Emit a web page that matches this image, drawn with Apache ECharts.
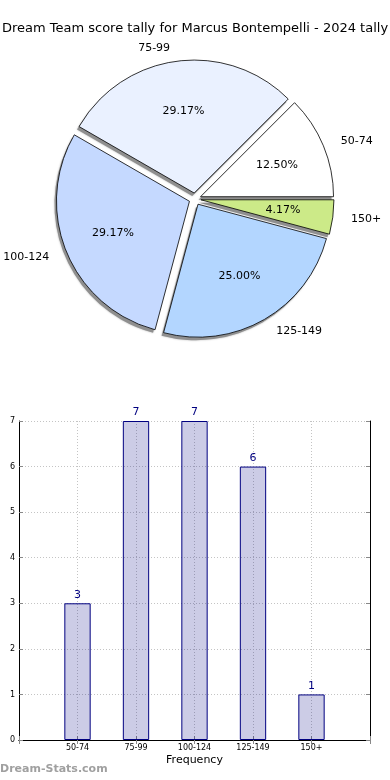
<!DOCTYPE html>
<html><head><meta charset="utf-8">
<script src="https://cdn.jsdelivr.net/npm/echarts@6/dist/echarts.min.js"></script>
<style>html,body{margin:0;padding:0;background:#fff}#c{width:390px;height:780px}</style>
</head><body><div id="c"></div>
<script>
const titleText = 'Dream Team score tally for Marcus Bontempelli - 2024 tally';
const categories = ['50-74', '75-99', '100-124', '125-149', '150+'];
const values = [3, 7, 7, 6, 1];
const sliceColors = ['#ffffff', '#eaf1ff', '#c5d9ff', '#b3d6ff', '#ccea88'];
const xAxisName = 'Frequency';
const yAxisName = 'Stat Intervals';
const watermark = 'Dream-Stats.com';

const total = values.reduce((a, b) => a + b, 0);
const R = 133;
const CX = 195, CY = 199;
const FONT = 'DejaVu Sans';
const pieData = categories.map((c, i) => ({ name: c, value: values[i], selected: true, itemStyle: { color: sliceColors[i] } }));
const plainData = categories.map((c, i) => ({ name: c, value: values[i], selected: true }));
const axisCats = [''].concat(categories, ['']);
const barData = ['-'].concat(values, ['-']);

const chart = echarts.init(document.getElementById('c'), null, { renderer: 'canvas' });
const gridColor = '#c4c4c4';
const pieCommon = {
  type: 'pie', radius: [0, R], startAngle: 0, clockwise: false,
  selectedMode: 'multiple', selectedOffset: 6, avoidLabelOverlap: false,
  emphasis: { disabled: true }
};
const option = {
  animation: false,
  backgroundColor: '#fff',
  textStyle: { fontFamily: FONT },
  title: {
    text: titleText, left: 'center', top: 22, padding: 0,
    textStyle: { fontSize: 13, fontWeight: 'normal', color: '#000', fontFamily: FONT }
  },
  graphic: [{
    type: 'text', left: 0, top: 764,
    style: { text: watermark, fill: '#a0a0a0', font: 'bold 11px "DejaVu Sans"' }
  }],
  grid: { left: 19, right: 20, top: 421, bottom: 40, containLabel: false, outerBoundsMode: 'none' },
  xAxis: [{
    type: 'category', data: axisCats, boundaryGap: false, position: 'bottom',
    axisLine: { show: true, lineStyle: { color: '#000', width: 1 } },
    axisTick: { show: true, inside: true, length: 4, interval: 0, lineStyle: { color: '#888' } },
    axisLabel: { interval: 0, fontSize: 8, margin: 4, color: '#000', fontFamily: FONT },
    splitLine: { show: true, interval: 0, lineStyle: { color: gridColor, type: [1, 2], width: 1 } },
    name: xAxisName, nameLocation: 'middle', nameGap: 15,
    nameTextStyle: { fontSize: 11, color: '#000', fontFamily: FONT }
  }, {
    type: 'category', data: axisCats, boundaryGap: false, position: 'top',
    axisLine: { show: true, lineStyle: { color: '#000', width: 1 } },
    axisTick: { show: true, inside: true, length: 4, interval: 0, lineStyle: { color: '#888' } },
    axisLabel: { show: false }, splitLine: { show: false }
  }],
  yAxis: [{
    type: 'value', min: 0, max: 7, interval: 1, position: 'left',
    axisLine: { show: true, lineStyle: { color: '#000', width: 1 } },
    axisTick: { show: true, inside: true, length: 4, lineStyle: { color: '#888' } },
    axisLabel: { fontSize: 8, margin: 4, color: '#000', fontFamily: FONT },
    splitLine: { show: true, lineStyle: { color: gridColor, type: [1, 2], width: 1 } },
    name: yAxisName, nameLocation: 'middle', nameGap: 10, nameRotate: 90,
    nameTextStyle: { fontSize: 11, color: '#000', fontFamily: FONT }
  }, {
    type: 'value', min: 0, max: 7, interval: 1, position: 'right',
    axisLine: { show: true, lineStyle: { color: '#000', width: 1 } },
    axisTick: { show: true, inside: true, length: 4, lineStyle: { color: '#888' } },
    axisLabel: { show: false }, splitLine: { show: false }
  }],
  series: [Object.assign({}, pieCommon, {
    // shadow layer
    center: [CX - 2, CY + 3], silent: true,
    label: { show: false }, labelLine: { show: false },
    itemStyle: { color: '#8f8f8f', borderWidth: 0, shadowColor: 'rgba(0,0,0,0.3)', shadowBlur: 2 },
    select: { itemStyle: { color: '#8f8f8f', borderWidth: 0 } },
    data: plainData, z: 1
  }), Object.assign({}, pieCommon, {
    center: [CX, CY],
    label: { show: true, position: 'outside', fontSize: 11, color: '#000', fontFamily: FONT, distanceToLabelLine: 5 },
    labelLine: { show: false, length: R * 0.1, length2: 0 },
    itemStyle: { borderColor: '#000', borderWidth: 0.8 },
    select: { itemStyle: { borderColor: '#000', borderWidth: 0.8 } },
    data: pieData, z: 2
  }), Object.assign({}, pieCommon, {
    center: [CX, CY], radius: [0, R * 1.2], silent: true,
    label: {
      show: true, position: 'inside', fontSize: 11, color: '#000', fontFamily: FONT,
      formatter: p => (p.value / total * 100).toFixed(2) + '%'
    },
    labelLine: { show: false },
    itemStyle: { color: 'rgba(0,0,0,0)', borderWidth: 0 },
    select: { itemStyle: { color: 'rgba(0,0,0,0)', borderWidth: 0 } },
    data: plainData, z: 3
  }), {
    type: 'bar', xAxisIndex: 0, yAxisIndex: 0, data: barData, barWidth: '45%',
    itemStyle: { color: 'rgba(0,0,128,0.2)', borderColor: '#000080', borderWidth: 1 },
    label: { show: true, position: 'top', distance: 3, color: '#000080', fontSize: 11, fontFamily: FONT },
    emphasis: { disabled: true }
  }]
};
chart.setOption(option);
</script>
</body></html>
